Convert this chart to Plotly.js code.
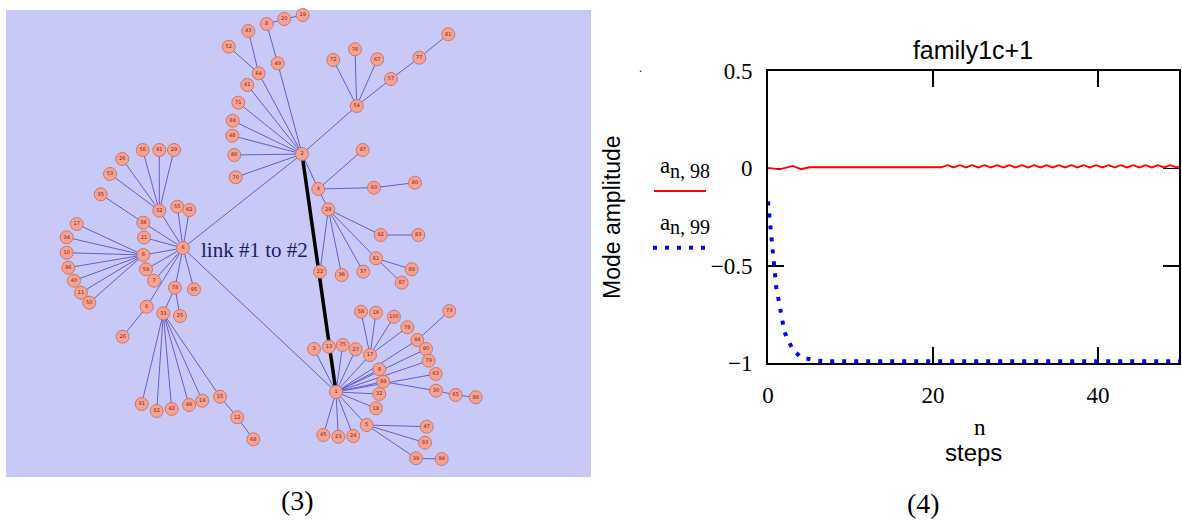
<!DOCTYPE html>
<html>
<head>
<meta charset="utf-8">
<script src="https://cdn.plot.ly/plotly-3.0.1.min.js"></script>
<style>html,body{margin:0;padding:0;background:#fff;}#chart{width:1182px;height:521px;}</style>
</head>
<body>
<div id="chart"></div>
<script>
// ---------- Panel (4): mode amplitudes ----------
const stepsN = [0,1,2,3,4,5,6,7,8,9,10,11,12,13,14,15,16,17,18,19,20,21,22,23,24,25,26,27,28,29,30,31,32,33,34,35,36,37,38,39,40,41,42,43,44,45,46,47,48,49,50];
const a99 = [-0.17,-0.61,-0.84,-0.93,-0.97,-0.98,-0.987,-0.99,-0.99,-0.99,-0.99,-0.99,-0.99,-0.99,-0.99,-0.99,-0.99,-0.99,-0.99,-0.99,-0.99,-0.99,-0.99,-0.99,-0.99,-0.99,-0.99,-0.99,-0.99,-0.99,-0.99,-0.99,-0.99,-0.99,-0.99,-0.99,-0.99,-0.99,-0.99,-0.99,-0.99,-0.99,-0.99,-0.99,-0.99,-0.99,-0.99,-0.99,-0.99,-0.99,-0.99];
const a98N = [0,1.4,3,4,5,21,21.75,22.5,23.25,24,24.75,25.5,26.25,27,27.75,28.5,29.25,30,30.75,31.5,32.25,33,33.75,34.5,35.25,36,36.75,37.5,38.25,39,39.75,40.5,41.25,42,42.75,43.5,44.25,45,45.75,46.5,47.25,48,48.75,49.5,50.25];
const a98 = [0.003,-0.005,0.013,-0.004,0.006,0.006,0.017,0.005,0.017,0.005,0.017,0.005,0.017,0.005,0.017,0.005,0.017,0.005,0.017,0.005,0.017,0.005,0.017,0.005,0.017,0.005,0.017,0.005,0.017,0.005,0.017,0.005,0.017,0.005,0.017,0.005,0.017,0.005,0.017,0.005,0.017,0.005,0.017,0.005,0.017];
const xTicks = [0,20,40];
const yTicks = [-1,-0.5,0,0.5];
const yTickText = ['\u22121','\u22120.5','0','0.5'];

// ---------- Panel (3): network (layout coordinates of the drawing) ----------
const nodeX = [
  183,302,336,
  258.7,228.7,248.3,277.7,266.7,284.3,302.7,247.3,238.3,232.7,232.3,234.3,235.7,
  356.7,333.3,355,377.3,391,419.3,448.3,
  318.3,362.7,374,415,328.3,380.7,418.3,376,411.7,401.7,320,341.7,363.3,
  314,329,342.7,355.7,370,361,376,394,407.3,417.3,449.3,426,428.7,379.3,435.7,
  383.3,436,455.7,475.7,379.3,376,366.7,426.7,425,416,441.7,323.3,338.3,353.3,
  159.3,142.7,159.3,174,122.3,110,143.3,100.7,177.3,189.3,144,
  143.3,76.7,66.7,66.7,68.3,74,81,89.3,
  146,154,175,194,163.3,180,141.7,156.7,171.7,189,202.3,220,237.3,253.3,146.7,122.7
];
const nodeY = [
  248,154,392,
  73.3,46.7,31,63.3,24,19,15,85,102.7,120.7,135.7,155,177.3,
  106,60,49.3,59.3,79,57.7,34.3,
  189,150,187.7,182.7,209.3,235,235,258.3,269.3,282.7,271.7,275,271.7,
  349,346.7,345,349.3,355,311.7,312.7,316.7,327.3,340,311,349,360.7,369.3,374,
  381.7,390.7,395,397.3,394,408.3,425,426.7,442.7,458.3,459,435,436.7,436,
  210.7,150,150,150,159,174,222.7,194.3,206.7,210,237.5,
  255,224,237.3,252.7,267.7,280.7,292.7,302.7,
  269.3,280.7,287.7,289.3,313.3,316,404,411,409,405,400.7,396.7,417.3,439.3,306.7,336.7
];
const nodeParent = [
  -1,0,0,
  1,3,3,1,6,7,8,1,1,1,1,1,1,
  1,16,16,16,16,20,21,
  1,23,23,25,23,27,28,27,30,30,27,27,27,
  2,2,2,2,2,40,40,40,40,2,45,2,2,2,2,
  2,51,52,53,2,2,2,57,57,57,60,2,2,2,
  0,65,65,65,65,65,0,71,0,0,0,
  0,76,76,76,76,76,76,76,
  0,0,0,0,86,86,88,88,88,88,88,88,95,96,0,98
];
const nodeLabel = [
  '6','2','1',
  '64','52','43','49','8','20','19','41','71','84','48','86','70',
  '54','72','76','67','57','77','81',
  '4','97','60','80','28','92','83','61','89','87','22','36','37',
  '3','13','75','27','17','58','16','100','78','44','73','90','79','9','63',
  '99','30','65','88','32','18','5','47','93','39','94','45','23','24',
  '32','56','91','29','26','53','38','35','55','62','21',
  '8','17','34','10','96','40','11','50',
  '59','7','78','95','33','25','31','82','42','46','14','15','12','68','6','26'
];
const strongLink = [1,2];   // "link #1 to #2"

// ---------- build traces ----------
const ex = [], ey = [];
for (let i = 0; i < nodeX.length; i++) {
  const p = nodeParent[i];
  if (p < 0) continue;
  ex.push(nodeX[p], nodeX[i], null);
  ey.push(nodeY[p], nodeY[i], null);
}
const W = 1182, H = 521;
const P = (px, py) => ({x: px / W, y: 1 - py / H});

const traces = [
  {type:'scatter', mode:'lines', x:ex, y:ey, xaxis:'x2', yaxis:'y2',
   line:{color:'#5f5fcc', width:1}, hoverinfo:'skip'},
  {type:'scatter', mode:'lines', xaxis:'x2', yaxis:'y2',
   x:[nodeX[strongLink[0]], nodeX[strongLink[1]]], y:[nodeY[strongLink[0]], nodeY[strongLink[1]]],
   line:{color:'#000000', width:3.5}, hoverinfo:'skip'},
  {type:'scatter', mode:'markers+text', x:nodeX, y:nodeY, xaxis:'x2', yaxis:'y2',
   text:nodeLabel, textposition:'middle center',
   textfont:{family:'DejaVu Sans', size:5, color:'#7a1a10'},
   marker:{size:13, color:'#f6a292', line:{color:'#c7786a', width:1}}, hoverinfo:'skip'},
  {type:'scatter', mode:'lines', x:a98N, y:a98, xaxis:'x', yaxis:'y',
   line:{color:'#ff0000', width:1.8}},
  {type:'scatter', mode:'lines', x:stepsN, y:a99, xaxis:'x', yaxis:'y',
   line:{color:'#0000ff', width:4, dash:'4px,8px'}}
];

const serif = 'Liberation Serif, Times New Roman, serif';
const sans = 'Liberation Sans, Arial, sans-serif';
const axCommon = {
  showline:true, linecolor:'#000', linewidth:2, mirror:'ticks',
  ticks:'inside', ticklen:16, tickwidth:1.6, tickcolor:'#000',
  showgrid:false, zeroline:false, fixedrange:true, layer:'below traces',
  tickfont:{family:serif, size:23, color:'#000'}
};

function ann(text, px, py, font, extra) {
  const p = P(px, py);
  return Object.assign({text:text, x:p.x, y:p.y, xref:'paper', yref:'paper',
    showarrow:false, xanchor:'center', yanchor:'middle', font:font}, extra || {});
}

const layout = {
  width:W, height:H,
  margin:{l:0, r:0, t:0, b:0, pad:0},
  paper_bgcolor:'#ffffff', plot_bgcolor:'rgba(0,0,0,0)',
  showlegend:false,
  title:{text:'family1c+1', x:973/W, y:1-50/H, xref:'paper', yref:'paper',
         xanchor:'center', yanchor:'middle', font:{family:sans, size:25, color:'#000'}},
  xaxis:Object.assign({}, axCommon, {domain:[768/W, 1179/W], range:[0,49.8], anchor:'y',
         tickvals:xTicks, ticktext:xTicks.map(String), ticklabelstandoff:10}),
  yaxis:Object.assign({}, axCommon, {domain:[1-363.3/H, 1-71/H], range:[-1,0.5], anchor:'x',
         tickvals:yTicks, ticktext:yTickText, ticklabelstandoff:9}),
  xaxis2:{domain:[0,1], range:[0,W], visible:false, anchor:'y2', fixedrange:true},
  yaxis2:{domain:[0,1], range:[H,0], visible:false, anchor:'x2', fixedrange:true},
  shapes:[
    {type:'rect', xref:'x2', yref:'y2', x0:6, x1:591, y0:10, y1:477,
     fillcolor:'#c9c9f8', line:{width:0}, layer:'below'},
    {type:'line', xref:'paper', yref:'paper', x0:654/W, x1:706/W, y0:1-191/H, y1:1-191/H,
     line:{color:'#ff0000', width:2}},
    {type:'line', xref:'paper', yref:'paper', x0:653/W, x1:706/W, y0:1-247.7/H, y1:1-247.7/H,
     line:{color:'#0000ff', width:4, dash:'4px,8px'}}
  ],
  annotations:[
    ann('link #1 to #2', 254, 250, {family:serif, size:21, color:'#1c1c66'}),
    ann('(3)', 297, 500, {family:serif, size:28, color:'#000'}),
    ann('(4)', 923, 503, {family:serif, size:28, color:'#000'}),
    ann('Mode amplitude', 612, 217, {family:sans, size:23, color:'#000'}, {textangle:-90}),
    ann('a', 665, 166, {family:serif, size:23, color:'#000'}),
    ann('n, 98', 690, 171, {family:serif, size:20, color:'#000'}),
    ann('a', 665, 222, {family:serif, size:23, color:'#000'}),
    ann('n, 99', 690, 227, {family:serif, size:20, color:'#000'}),
    ann('n', 980, 427, {family:serif, size:23, color:'#000'}),
    ann('steps', 973, 452, {family:sans, size:24, color:'#000'}),
    ann('.', 640, 68, {family:serif, size:12, color:'#000'})
  ]
};

Plotly.newPlot('chart', traces, layout, {staticPlot:true, displayModeBar:false});
</script>
</body>
</html>
